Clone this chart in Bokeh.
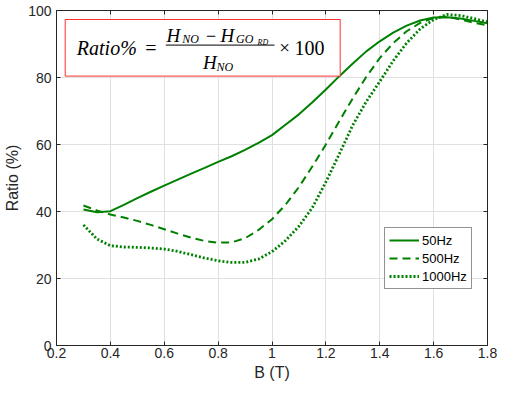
from bokeh.plotting import figure
from bokeh.models import Range1d, FixedTicker, LinearAxis, Label, BoxAnnotation
from bokeh.embed import file_html
from bokeh.resources import INLINE

# ---------------- data ----------------
B = [0.30, 0.35, 0.40, 0.45, 0.50, 0.55, 0.60, 0.65, 0.70, 0.75, 0.80,
     0.85, 0.90, 0.95, 1.00, 1.05, 1.10, 1.15, 1.20, 1.25, 1.30, 1.35,
     1.40, 1.45, 1.50, 1.55, 1.60, 1.65, 1.70, 1.75, 1.80]
ratio_50hz = [40.6, 39.8, 40.1, 42.0, 44.0, 45.9, 47.7, 49.5, 51.3, 53.0, 54.8,
              56.5, 58.4, 60.5, 62.8, 65.9, 69.0, 72.6, 76.4, 80.4, 84.2, 87.8,
              90.8, 93.4, 95.5, 97.0, 97.9, 98.0, 97.6, 96.9, 96.2]
ratio_500hz = [41.8, 40.3, 39.1, 38.2, 37.2, 36.0, 34.7, 33.4, 32.2, 31.2, 30.7,
               30.8, 32.0, 34.5, 37.7, 42.0, 47.3, 53.5, 60.0, 67.0, 73.8, 80.2,
               85.8, 90.3, 93.8, 96.3, 97.8, 98.2, 97.3, 96.3, 95.6]
ratio_1000hz = [36.0, 31.8, 29.8, 29.4, 29.3, 29.1, 28.8, 28.1, 27.1, 26.1, 25.3,
                24.8, 24.8, 25.8, 28.0, 31.3, 35.6, 41.2, 48.8, 57.2, 65.8, 72.8,
                78.8, 85.0, 90.3, 94.5, 97.3, 98.8, 98.5, 97.6, 96.6]
series_labels = ["50Hz", "500Hz", "1000Hz"]
x_ticks = [0.2, 0.4, 0.6, 0.8, 1.0, 1.2, 1.4, 1.6, 1.8]
x_tick_labels = ["0.2", "0.4", "0.6", "0.8", "1", "1.2", "1.4", "1.6", "1.8"]
y_ticks = [0, 20, 40, 60, 80, 100]
y_tick_labels = ["0", "20", "40", "60", "80", "100"]
x_label = "B (T)"
y_label = "Ratio (%)"

# ---------------- layout & styling ----------------
X0, X1, Y0, Y1 = 0.2, 1.8, 0, 100
W, H = 497, 387
BL, BR, BT, BB = 56, 10, 10, 42          # borders around the plot frame
FL, FR, FT, FB = BL, W - BR, BT, H - BB  # frame edges in canvas pixels
GREEN = "#008000"
AX = "#262626"
GRID = "#e0e0e0"
SANS = "Liberation Sans"
SERIF = "Liberation Serif"

p = figure(width=W, height=H, output_backend="svg", toolbar_location=None,
           x_range=Range1d(X0, X1), y_range=Range1d(Y0, Y1),
           min_border_left=BL, min_border_right=BR, min_border_top=BT,
           min_border_bottom=BB, x_axis_label=x_label, y_axis_label=y_label)
p.background_fill_color = "white"
p.border_fill_color = "white"
p.outline_line_color = AX
p.outline_line_width = 1
p.outline_line_alpha = 1

p.xaxis.ticker = FixedTicker(ticks=x_ticks)
p.yaxis.ticker = FixedTicker(ticks=y_ticks)
p.xaxis.major_label_overrides = dict(zip(x_ticks, x_tick_labels))
p.yaxis.major_label_overrides = dict(zip(y_ticks, y_tick_labels))
for ax in (p.xaxis, p.yaxis):
    ax.axis_line_color = AX
    ax.major_tick_line_color = AX
    ax.major_tick_in = 4
    ax.major_tick_out = 0
    ax.minor_tick_line_color = None
    ax.major_label_text_font = SANS
    ax.major_label_text_font_size = "14px"
    ax.major_label_text_color = AX
    ax.axis_label_text_font = SANS
    ax.axis_label_text_font_size = "16px"
    ax.axis_label_text_font_style = "normal"
    ax.axis_label_text_color = AX
p.xaxis.major_label_standoff = 2
p.xaxis.axis_label_standoff = 3
p.yaxis.major_label_standoff = 5
p.yaxis.axis_label_standoff = 4

# box ticks on top and right (MATLAB "box on")
top_ax = LinearAxis(ticker=FixedTicker(ticks=x_ticks),
                    major_label_overrides={t: "" for t in x_ticks})
right_ax = LinearAxis(ticker=FixedTicker(ticks=y_ticks),
                      major_label_overrides={t: "" for t in y_ticks})
for ax in (top_ax, right_ax):
    ax.axis_line_color = AX
    ax.major_tick_line_color = AX
    ax.major_tick_in = 4
    ax.major_tick_out = 0
    ax.minor_tick_line_color = None
    ax.major_label_text_font_size = "0px"
    ax.major_label_standoff = 0
p.add_layout(top_ax, "above")
p.add_layout(right_ax, "right")

p.xgrid.ticker = FixedTicker(ticks=x_ticks)
p.ygrid.ticker = FixedTicker(ticks=y_ticks)
p.grid.grid_line_color = GRID
p.grid.grid_line_width = 1

# ---------------- curves ----------------
p.line(B, ratio_50hz, line_color=GREEN, line_width=2, legend_label=series_labels[0])
p.line(B, ratio_500hz, line_color=GREEN, line_width=2, line_dash="8 5",
       legend_label=series_labels[1])
p.line(B, ratio_1000hz, line_color=GREEN, line_width=2.8, line_dash="2 2",
       legend_label=series_labels[2])

leg = p.legend[0]
leg.location = (328, 56)
leg.label_text_font = SANS
leg.label_text_font_size = "13px"
leg.label_text_color = "#000000"
leg.glyph_width = 30
leg.glyph_height = 16
leg.label_height = 16
leg.spacing = 2
leg.padding = 4
leg.margin = 0
leg.label_standoff = 3
leg.border_line_color = AX
leg.border_line_width = 1
leg.background_fill_color = "white"
leg.background_fill_alpha = 1

# ---------------- formula box ----------------
# offsets (pixels) from the frame's top-left corner, converted to data units
def dx(ox):
    return X0 + ox / (FR - FL) * (X1 - X0)


def dy(oy):
    return Y1 - oy / (FB - FT) * (Y1 - Y0)


box = BoxAnnotation(left=dx(8.7), right=dx(283.7), top=dy(9.0), bottom=dy(65.6),
                    fill_color="white", fill_alpha=1.0,
                    line_color="#ff3030", line_width=1, line_alpha=1)
p.add_layout(box)

pieces = [
    # text, x offset, vertical centre offset of the glyphs, size (px), style, align
    ("Ratio%", 20.3, 37.6, 20, "italic", "left"),
    ("=", 94.5, 37.6, 20, "normal", "center"),
    ("H", 110.0, 24.5, 19, "italic", "left"),
    ("NO", 125.8, 28.5, 12, "italic", "left"),
    ("\u2212", 154.5, 24.5, 18, "normal", "center"),
    ("H", 164.0, 24.5, 19, "italic", "left"),
    ("GO", 179.5, 28.5, 12, "italic", "left"),
    ("RD", 201.0, 32.3, 8, "italic", "left"),
    ("H", 146.5, 52.3, 19, "italic", "left"),
    ("NO", 160.0, 56.5, 12, "italic", "left"),
    ("\u00d7", 228.0, 37.0, 19, "normal", "center"),
    ("100", 238.0, 37.0, 20, "normal", "left"),
]
for txt, ox, oy, size, style, align in pieces:
    p.add_layout(Label(x=dx(ox), y=dy(oy), text=txt, text_font=SERIF,
                       text_font_size=f"{size}px", text_font_style=style,
                       text_align=align, text_baseline="middle",
                       text_color="#000000"))

p.segment(x0=[dx(109.3)], y0=[dy(34.6)], x1=[dx(218.0)], y1=[dy(34.6)],
          line_color="#000000", line_width=1, level="overlay")

open("out.html", "w").write(file_html(p, INLINE))
